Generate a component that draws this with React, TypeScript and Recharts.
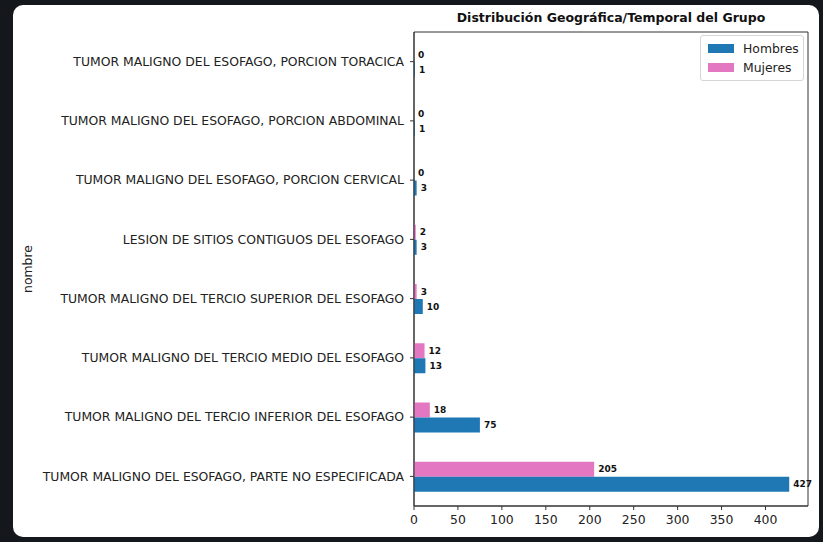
import React from 'react';
import { BarChart, Bar, XAxis, YAxis, LabelList, Legend, ReferenceArea } from 'recharts';

const categories = [
  'TUMOR MALIGNO DEL ESOFAGO, PORCION TORACICA',
  'TUMOR MALIGNO DEL ESOFAGO, PORCION ABDOMINAL',
  'TUMOR MALIGNO DEL ESOFAGO, PORCION CERVICAL',
  'LESION DE SITIOS CONTIGUOS DEL ESOFAGO',
  'TUMOR MALIGNO DEL TERCIO SUPERIOR DEL ESOFAGO',
  'TUMOR MALIGNO DEL TERCIO MEDIO DEL ESOFAGO',
  'TUMOR MALIGNO DEL TERCIO INFERIOR DEL ESOFAGO',
  'TUMOR MALIGNO DEL ESOFAGO, PARTE NO ESPECIFICADA',
];
const hombres = [1, 1, 3, 3, 10, 13, 75, 427];
const mujeres = [0, 0, 0, 2, 3, 12, 18, 205];
const xTicks = [0, 50, 100, 150, 200, 250, 300, 350, 400];

const data = categories.map((name, i) => ({ name, Hombres: hombres[i], Mujeres: mujeres[i] }));

const FONT = '"DejaVu Sans", sans-serif';
const BLUE = '#1f77b4';
const PINK = '#e377c2';
const X_MAX = 448.35;

const renderLegend = () => (
  <div
    style={{
      border: '1px solid #d6d6d6',
      borderRadius: 3,
      background: '#fff',
      padding: '3px 4px 3px 7px',
      fontFamily: FONT,
      fontSize: 12.4,
      color: '#222',
    }}
  >
    {[
      ['Hombres', BLUE],
      ['Mujeres', PINK],
    ].map(([label, color]) => (
      <div key={label} style={{ display: 'flex', alignItems: 'center', height: 19 }}>
        <span style={{ display: 'inline-block', width: 26, height: 9, background: color, marginRight: 9 }} />
        {label}
      </div>
    ))}
  </div>
);

// plain tick so recharts does not wrap the long names
const CategoryTick = (props: any) => {
  const { x, y, payload } = props;
  return (
    <text x={x} y={y} dy="0.35em" textAnchor="end" fill="#222" fontSize={12.4} fontFamily={FONT}>
      {payload.value}
    </text>
  );
};

// value label drawn even for zero-length bars
const ValueLabel = (props: any) => {
  const { x, y, width, height, value } = props;
  return (
    <text
      x={x + width + 4}
      y={y + height / 2}
      dy="0.35em"
      fill="#111"
      fontSize={9}
      fontWeight="bold"
      fontFamily={FONT}
    >
      {value}
    </text>
  );
};

export default function App() {
  return (
    <div style={{ position: 'fixed', left: 0, top: 0, width: 823, height: 542, background: '#14171c' }}>
      <div
        style={{
          position: 'absolute',
          left: 13,
          top: 5,
          width: 806,
          height: 532,
          background: '#fff',
          borderRadius: 10,
        }}
      />
      <div
        style={{
          position: 'absolute',
          left: 414,
          width: 394,
          top: 10,
          textAlign: 'center',
          fontFamily: FONT,
          fontWeight: 'bold',
          fontSize: 12.5,
          color: '#111',
        }}
      >
        Distribución Geográfica/Temporal del Grupo
      </div>
      <div style={{ position: 'absolute', left: 0, top: 0 }}>
        <BarChart
          width={823}
          height={542}
          data={data}
          layout="vertical"
          margin={{ top: 32, right: 15, bottom: 0, left: 0 }}
          barSize={15}
          barGap={0}
        >
          <XAxis
            type="number"
            domain={[0, X_MAX]}
            ticks={xTicks}
            tickSize={4}
            tickMargin={5}
            height={36}
            stroke="#333"
            tick={{ fill: '#222', fontSize: 12.4, fontFamily: FONT }}
            allowDataOverflow
          />
          <YAxis
            type="category"
            dataKey="name"
            width={414}
            interval={0}
            tickSize={4}
            tickMargin={6}
            stroke="#333"
            tick={<CategoryTick />}
            label={{
              value: 'nombre',
              angle: -90,
              position: 'insideLeft',
              offset: 28,
              style: { fill: '#222', fontSize: 12.4, fontFamily: FONT, textAnchor: 'middle' },
            }}
          />
          <ReferenceArea x1={0} x2={X_MAX} fill="none" stroke="#333" strokeWidth={1} />
          <Legend
            layout="horizontal"
            verticalAlign="middle"
            align="center"
            content={renderLegend}
            wrapperStyle={{ left: 700, top: 35, width: 'auto' }}
          />
          <Bar dataKey="Mujeres" fill={PINK} isAnimationActive={false} minPointSize={0.01}>
            <LabelList dataKey="Mujeres" content={<ValueLabel />} />
          </Bar>
          <Bar dataKey="Hombres" fill={BLUE} isAnimationActive={false} minPointSize={0.01}>
            <LabelList dataKey="Hombres" content={<ValueLabel />} />
          </Bar>
        </BarChart>
      </div>
    </div>
  );
}
